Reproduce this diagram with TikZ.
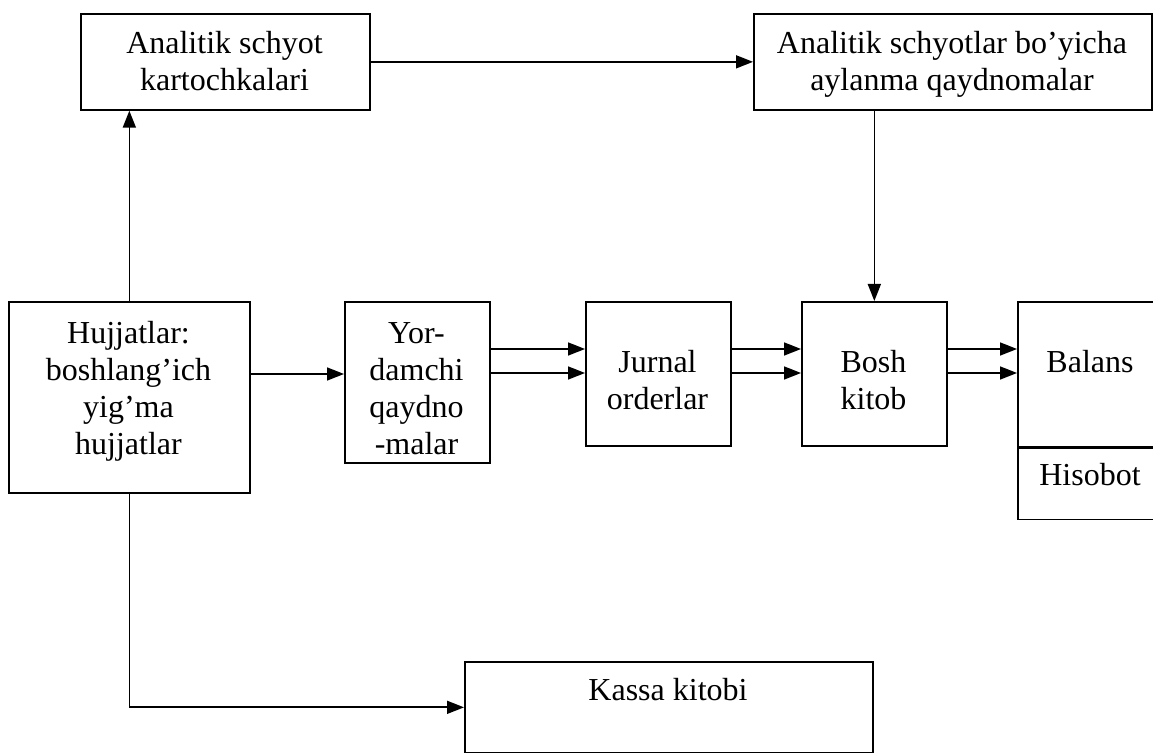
\documentclass[tikz,border=0pt]{standalone}
\usepackage{fontspec}
\setmainfont{Liberation Serif}
\usetikzlibrary{arrows.meta,calc}
\begin{document}
\begin{tikzpicture}[x=0.5pt,y=-0.5pt,
  box/.style={draw, line width=0.85pt, rectangle, inner sep=0pt, anchor=north west},
  txt/.style={font=\fontsize{16}{18.5}\selectfont, align=center, inner sep=0pt, anchor=north},
  arr/.style={line width=0.85pt, -{Triangle[length=8.5pt,width=6.5pt]}}]
\useasboundingbox (0,0) rectangle (1153,753);
\clip (0,0) rectangle (1153,753);

% boxes
\node[box, minimum width=144.5pt, minimum height=48pt] (kart) at (80,13) {};
\node[box, minimum width=199pt, minimum height=48pt] (aylan) at (753,13) {};
\node[box, minimum width=120.5pt, minimum height=95.5pt] (hujj) at (8,301) {};
\node[box, minimum width=72.5pt, minimum height=80.5pt] (yord) at (344,301) {};
\node[box, minimum width=72.5pt, minimum height=72pt] (jurn) at (585,301) {};
\node[box, minimum width=72.5pt, minimum height=72pt] (bosh) at (801,301) {};
\node[box, minimum width=73pt, minimum height=72.5pt] (balans) at (1017,301) {};
\node[box, minimum width=73pt, minimum height=35.5pt] (hisob) at (balans.south west) {};
\node[box, minimum width=204pt, minimum height=45.5pt] (kassa) at (464,661) {};

% labels
\node[txt] (tkart) at (224.5,27.1) {\strut Analitik schyot\\kartochkalari};
\node[txt] (taylan) at (952,27.1) {\strut Analitik schyotlar bo’yicha\\aylanma qaydnomalar};
\node[txt] (thujj) at (128.5,317.1) {\strut Hujjatlar:\\boshlang’ich\\yig’ma\\hujjatlar};
\node[txt] (tyord) at (416.5,317.1) {\strut Yor-\\damchi\\qaydno\\-malar};
\node[txt] (tjurn) at (657.5,346.1) {\strut Jurnal\\orderlar};
\node[txt] (tbosh) at (873.5,346.1) {\strut Bosh\\kitob};
\node[txt] (tbalans) at (1090,346.1) {\strut Balans};
\node[txt] (thisob) at (1090,459.1) {\strut Hisobot};
\node[txt] (tkassa) at (668,674.1) {\strut Kassa kitobi};

% connectors
\draw[arr] (kart.east) -- (aylan.west);
\draw[arr] (bosh.north |- aylan.south) -- (bosh.north);
\draw[arr] (hujj.north) -- (hujj.north |- kart.south);
\draw[arr] (hujj.south) |- (kassa.west);
\draw[arr] ($(hujj.north east)+(0,73)$) -- ($(yord.north west)+(0,73)$);
\foreach \d in {48,72} {
  \draw[arr] ($(yord.north east)+(0,\d)$) -- ($(jurn.north west)+(0,\d)$);
  \draw[arr] ($(jurn.north east)+(0,\d)$) -- ($(bosh.north west)+(0,\d)$);
  \draw[arr] ($(bosh.north east)+(0,\d)$) -- ($(balans.north west)+(0,\d)$);
}
\end{tikzpicture}
\end{document}
